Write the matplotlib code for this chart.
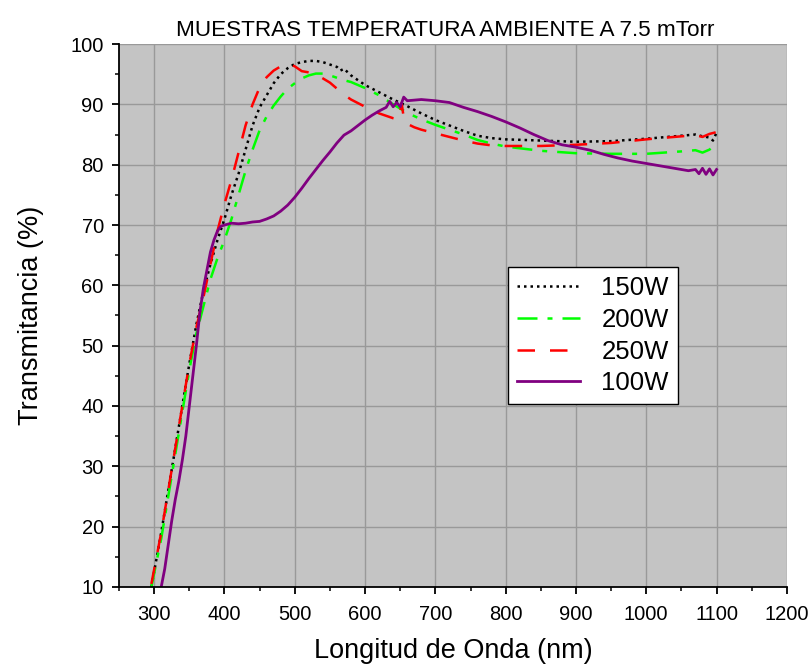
import matplotlib
matplotlib.use("Agg")
import matplotlib.pyplot as plt
from matplotlib.ticker import MultipleLocator

plt.rcParams['font.family'] = ['Liberation Sans', 'DejaVu Sans']

# 150W
wl_150 = [296, 310, 320, 330, 340, 350, 360, 370, 380, 390, 400, 410, 420, 430, 440,
          450, 460, 470, 480, 490, 500, 510, 520, 530, 540, 550, 560, 565, 570, 580,
          590, 600, 620, 640, 660, 680, 700, 720, 740, 760, 780, 800, 850, 900, 950,
          1000, 1050, 1070, 1080, 1090, 1095, 1100]
t_150 = [10, 19, 26, 33, 40, 47, 53.5, 59, 63.5, 67.5, 71, 75, 78.5, 82.5, 86.5,
         89.5, 91.5, 93.5, 95, 96, 96.7, 97, 97.2, 97.2, 97, 96.6, 96.2, 95.6, 95.9, 94.8,
         94, 93.2, 92, 90.8, 89.7, 88.5, 87.4, 86.5, 85.6, 84.8, 84.4, 84.2, 84, 83.8, 83.9,
         84.3, 84.8, 85, 84.7, 84.5, 84.0, 85.3]

# 200W
wl_200 = [296, 310, 320, 330, 340, 350, 360, 370, 380, 390, 400, 410, 420, 430, 440,
          450, 460, 470, 480, 490, 500, 510, 520, 530, 540, 550, 560, 570, 580, 590,
          600, 620, 640, 660, 680, 700, 720, 740, 760, 780, 800, 850, 900, 950, 1000,
          1050, 1070, 1080, 1090, 1100]
t_200 = [10, 18, 25, 32, 39, 46, 52, 56.5, 61, 64.5, 67.5, 71, 75, 79, 82.5,
         85.7, 88, 89.8, 91.3, 92.6, 93.5, 94.3, 94.8, 95.1, 95.1, 94.8, 94.4, 94.0, 93.7, 93.2,
         92.7, 91.5, 90.0, 88.6, 87.5, 86.6, 85.8, 85.0, 84.1, 83.5, 83.0, 82.3, 81.9, 81.8, 81.8,
         82.2, 82.4, 82.0, 82.5, 83.5]

# 250W
wl_250 = [296, 310, 320, 330, 340, 350, 360, 370, 380, 390, 400, 410, 420, 430, 440,
          450, 460, 470, 480, 490, 500, 510, 520, 530, 540, 550, 560, 570, 580, 590,
          600, 620, 640, 648, 652, 656, 670, 680, 700, 720, 740, 760, 780, 800, 850,
          900, 950, 1000, 1050, 1070, 1080, 1090, 1100]
t_250 = [10.5, 19, 26, 33, 40, 47, 53, 58, 63.5, 69, 73.5, 77.5, 82, 86.5, 90,
         92.8, 94.5, 95.6, 96.3, 96.8, 96.3, 95.5, 95.3, 95, 94.3, 93.6, 92.6, 91.6, 90.8, 90.2,
         89.6, 88.5, 87.7, 87.5, 90.2, 87.0, 86.2, 85.8, 85.2, 84.6, 84.0, 83.5, 83.2, 83.1, 83.1,
         83.3, 83.6, 84.2, 84.7, 84.9, 84.6, 85.1, 85.4]

# 100W
wl_100 = [310, 315, 320, 325, 330, 335, 340, 345, 350, 355, 360, 365, 370, 375, 380,
          385, 390, 395, 400, 410, 420, 430, 440, 450, 460, 470, 480, 490, 500, 510,
          520, 530, 540, 550, 560, 570, 580, 590, 600, 610, 620, 630, 635, 640, 645,
          650, 655, 660, 680, 700, 720, 740, 760, 780, 800, 820, 840, 860, 880, 900,
          920, 940, 960, 980, 1000, 1020, 1040, 1060, 1070, 1075, 1080, 1085, 1090, 1095, 1100]
t_100 = [10, 13, 17, 21, 24.5, 27.5, 31, 35, 40, 45, 50, 55.5, 59.5, 62.5, 65.5,
         67.5, 69, 69.8, 70, 70.3, 70.2, 70.3, 70.5, 70.6, 71, 71.5, 72.3, 73.3, 74.6, 76.1,
         77.7, 79.2, 80.7, 82.1, 83.6, 84.9, 85.6, 86.5, 87.4, 88.2, 88.9, 89.5, 90.5, 89.6, 90.3,
         89.6, 91.2, 90.6, 90.8, 90.6, 90.3, 89.5, 88.8, 88.0, 87.1, 86.1, 85.0, 84.0, 83.3, 82.9,
         82.4, 81.7, 81.1, 80.6, 80.2, 79.8, 79.4, 79.0, 79.2, 78.5, 79.4, 78.4, 79.3, 78.3, 79.2]

fig = plt.figure(figsize=(8.12, 6.67), dpi=100)
ax = fig.add_axes([0.1466, 0.12, 0.8224, 0.814])
ax.set_facecolor('#c4c4c4')

ax.plot(wl_150, t_150, color='black', linestyle=(0, (1, 1.6)), lw=1.8, label='150W')
ax.plot(wl_200, t_200, color='#00ff00', linestyle=(0, (8, 4, 2, 4)), lw=1.8, label='200W')
ax.plot(wl_250, t_250, color='#ff0000', linestyle=(0, (7, 6)), lw=1.8, label='250W')
ax.plot(wl_100, t_100, color='#800080', linestyle='-', lw=2.0, label='100W')

ax.set_xlim(250, 1200)
ax.set_ylim(10, 100)
ax.xaxis.set_major_locator(MultipleLocator(100))
ax.xaxis.set_minor_locator(MultipleLocator(50))
ax.yaxis.set_major_locator(MultipleLocator(10))
ax.yaxis.set_minor_locator(MultipleLocator(5))
ax.set_xticks(range(300, 1201, 100))
ax.grid(True, which='major', color='#999999', lw=1.0)
ax.set_axisbelow(True)

for s in ['top', 'right']:
    ax.spines[s].set_visible(False)
for s in ['left', 'bottom']:
    ax.spines[s].set_linewidth(1.3)
ax.tick_params(which='major', direction='out', length=5, width=1.3, labelsize=14.5)
ax.tick_params(axis='x', which='major', pad=8)
ax.tick_params(axis='y', which='major', pad=6)
ax.tick_params(which='minor', direction='out', length=3, width=1.1)

ax.set_xlabel('Longitud de Onda (nm)', fontsize=19.5, labelpad=10)
ax.set_ylabel('Transmitancia (%)', fontsize=19.5, labelpad=19)
ax.set_title('MUESTRAS TEMPERATURA AMBIENTE A 7.5 mTorr', fontsize=16.2, pad=6, x=0.488)

leg = ax.legend(loc='upper left', bbox_to_anchor=(0.582, 0.589), borderaxespad=0,
                fontsize=18.5, fancybox=False, framealpha=1, edgecolor='black',
                handlelength=2.45, labelspacing=0.3, borderpad=0.35, handletextpad=0.85)
leg.get_frame().set_linewidth(1.0)

fig.savefig('out.png', dpi=100)
